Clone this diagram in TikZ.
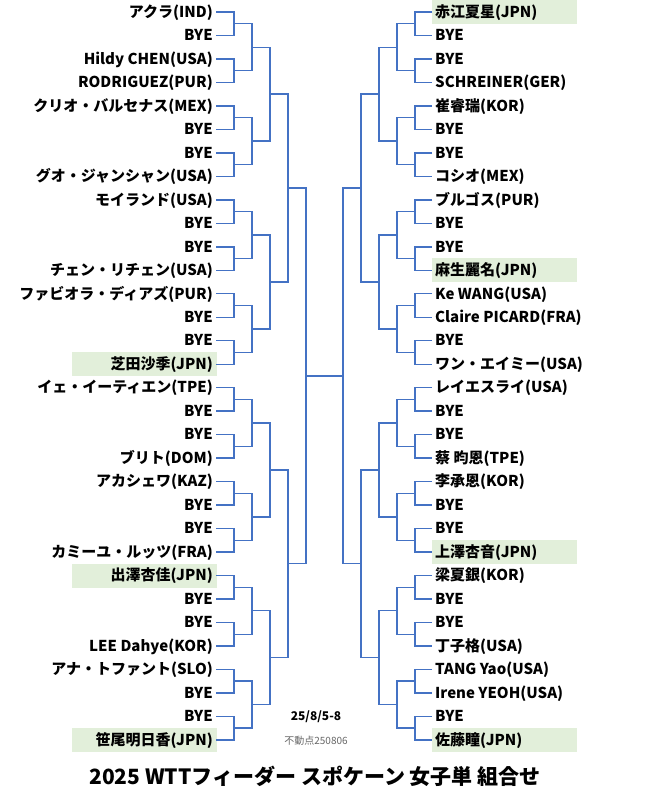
\documentclass[tikz,border=0pt]{standalone}
\usepackage{fontspec}
\setmainfont{Noto Sans CJK JP}
\definecolor{linecol}{RGB}{68,114,196}
\definecolor{hilite}{RGB}{226,239,218}
\tikzset{
	% entry nodes on both sides, bracket lines and seed boxes
	left entry/.style={anchor=east,inner sep=3pt,font=\bfseries\fontsize{15}{15}\selectfont,text height=10.5pt,text depth=0pt},
	right entry/.style={anchor=west,inner sep=3pt,font=\bfseries\fontsize{15}{15}\selectfont,text height=10.5pt,text depth=0pt},
	bracket/.style={draw=linecol,line width=1.4pt},
	seed box/.style={fill=hilite}
}

\begin{document}
\begin{tikzpicture}[x=1pt,y=-1pt]
	\useasboundingbox (0,0) rectangle (649,800);
	% highlighted seeds
	\foreach \i in {15,24,31}{
		\fill[seed box] (72,{23.48*\i}) rectangle (217,{23.48*\i+24});
	}
	\foreach \i in {0,11,23,31}{
		\fill[seed box] (432,{23.48*\i}) rectangle (577,{23.48*\i+24});
	}
	% entries of the left half
	\foreach \t [count=\i from 0] in {アクラ(IND),BYE,Hildy CHEN(USA),RODRIGUEZ(PUR),クリオ・バルセナス(MEX),BYE,BYE,グオ・ジャンシャン(USA),モイランド(USA),BYE,BYE,チェン・リチェン(USA),ファビオラ・ディアズ(PUR),BYE,BYE,芝田沙季(JPN),イェ・イーティエン(TPE),BYE,BYE,ブリト(DOM),アカシェワ(KAZ),BYE,BYE,カミーユ・ルッツ(FRA),出澤杏佳(JPN),BYE,BYE,LEE Dahye(KOR),アナ・トファント(SLO),BYE,BYE,笹尾明日香(JPN)}{
		\node[left entry] (L\i) at (216,{12+23.48*\i}) {\t};
	}
	% entries of the right half
	\foreach \t [count=\i from 0] in {赤江夏星(JPN),BYE,BYE,SCHREINER(GER),崔睿瑞(KOR),BYE,BYE,コシオ(MEX),ブルゴス(PUR),BYE,BYE,麻生麗名(JPN),Ke WANG(USA),Claire PICARD(FRA),BYE,ワン・エイミー(USA),レイエスライ(USA),BYE,BYE,蔡 昀恩(TPE),李承恩(KOR),BYE,BYE,上澤杏音(JPN),梁夏銀(KOR),BYE,BYE,丁子格(USA),TANG Yao(USA),Irene YEOH(USA),BYE,佐藤瞳(JPN)}{
		\node[right entry] (R\i) at (432,{12+23.48*\i}) {\t};
	}
	% junction points of each round
	\foreach \k in {1,...,5}{
		\pgfmathtruncatemacro\n{2^(5-\k)-1}
		\foreach \j in {0,...,\n}{
			\pgfmathsetmacro\ym{12+23.48*(\j*2^\k+(2^\k-1)/2)}
			\coordinate (l\k-\j) at ({216+18*\k},\ym);
			\coordinate (r\k-\j) at ({433-18*\k},\ym);
		}
	}
	% first round
	\foreach \j in {0,...,15}{
		\pgfmathtruncatemacro\a{2*\j}
		\pgfmathtruncatemacro\b{2*\j+1}
		\draw[bracket] (L\a.east) -| (l1-\j) |- (L\b.east);
		\draw[bracket] (R\a.west) -| (r1-\j) |- (R\b.west);
	}
	% later rounds
	\foreach \k in {2,...,5}{
		\pgfmathtruncatemacro\p{\k-1}
		\pgfmathtruncatemacro\n{2^(5-\k)-1}
		\foreach \j in {0,...,\n}{
			\pgfmathtruncatemacro\a{2*\j}
			\pgfmathtruncatemacro\b{2*\j+1}
			\draw[bracket] (l\p-\a) -| (l\k-\j) |- (l\p-\b);
			\draw[bracket] (r\p-\a) -| (r\k-\j) |- (r\p-\b);
		}
	}
	\draw[bracket] (l5-0) -- (r5-0);
	% dates and title
	\node[font=\bfseries\fontsize{12}{12}\selectfont] (date) at (316,717) {25/8/5-8};
	\node[font=\fontsize{10}{10}\selectfont,text=black!60] (stamp) at (316,741) {不動点250806};
	\node[font=\bfseries\fontsize{21}{21}\selectfont] (title) at (315,776) {2025 WTTフィーダー スポケーン 女子単 組合せ};
\end{tikzpicture}
\end{document}
